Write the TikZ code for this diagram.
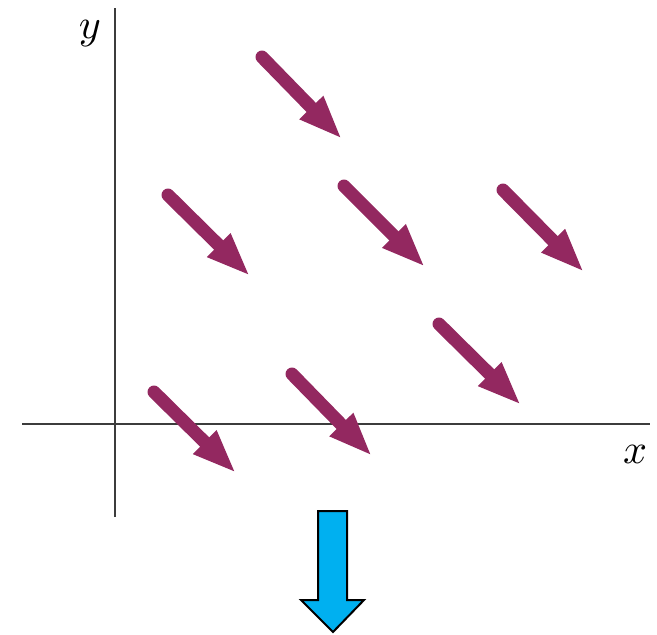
\documentclass[tikz,border=0pt]{standalone}
\usetikzlibrary{arrows.meta}
\definecolor{plum}{RGB}{147,40,96}
\definecolor{axisgray}{RGB}{60,60,60}
\definecolor{skyblue}{RGB}{0,176,240}
\begin{document}
\begin{tikzpicture}[x=1pt,y=-1pt,
  vec/.style={draw=plum,line width=13pt,line cap=round,-{Triangle[length=44pt,width=30pt,line cap=butt]}},
  axis/.style={draw=axisgray,line width=1.8pt},
  lab/.style={inner sep=0pt}]
\useasboundingbox (0,0) rectangle (657,635);
% axes
\coordinate (yb) at (115,517); \coordinate (yt) at (115,8);
\coordinate (xl) at (22,424); \coordinate (xr) at (650,424);
\draw[axis] (yb) -- (yt);
\draw[axis] (xl) -- (xr);
\node[lab] (ylab) at (90,34) {\scalebox{4.2}{$y$}};
\node[lab] (xlab) at (635,454) {\scalebox{4.2}{$x$}};
% vectors
\foreach \i/\sx/\sy/\tx/\ty in {1/262/57/342/139, 2/168/195/250/276, 3/344/186/425/267,
  4/503/190/584/272, 5/439/324/521/405, 6/154/392/236/473, 7/292/374/372/456}{
  \coordinate (s\i) at (\sx,\sy);
  \coordinate (t\i) at (\tx,\ty);
  \draw[vec] (s\i) -- (t\i);
}
% blue arrow
\draw[fill=skyblue,draw=black,line width=2pt,line join=miter]
  (318,511) -- (347,511) -- (347,600) -- (364,600) -- (333,632) -- (301,600) -- (318,600) -- cycle;
\end{tikzpicture}
\end{document}
